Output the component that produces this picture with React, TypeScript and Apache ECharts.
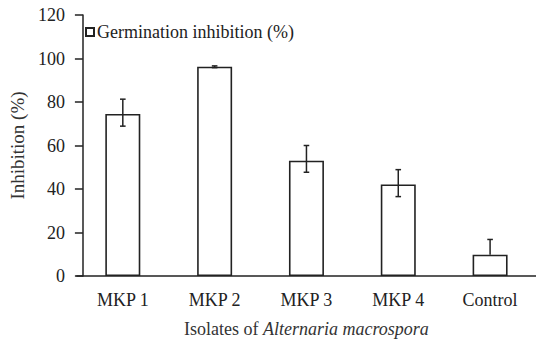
import React, { useEffect, useRef } from "react";
import * as echarts from "echarts";

const categories = ["MKP 1", "MKP 2", "MKP 3", "MKP 4", "Control"];
const inhibition = [74.5, 96.2, 53.0, 42.1, 9.8];
const errUpper = [6.8, 0.4, 7.0, 6.8, 7.0];
const errLower = [5.6, 0.4, 5.3, 5.6, 0];
const yTicks = { min: 0, max: 120, interval: 20 };

const FONT = "Times New Roman, Liberation Serif, DejaVu Serif, serif";

export default function App() {
  const ref = useRef<HTMLDivElement>(null);
  useEffect(() => {
    if (!ref.current) return;
    const chart = echarts.init(ref.current, undefined, { renderer: "svg" });
    chart.setOption({
      animation: false,
      backgroundColor: "#fff",
      textStyle: { fontFamily: FONT, color: "#222" },
      legend: {
        left: 80,
        top: 18,
        icon: "rect",
        itemWidth: 8,
        itemHeight: 8,
        itemGap: 4,
        textStyle: { fontFamily: FONT, fontSize: 18, color: "#222", padding: [0, 0, 0, -2] },
        data: ["Germination inhibition (%)"],
      },
      grid: { left: 73, top: 15, width: 473, height: 264.3 },
      xAxis: {
        type: "category",
        data: categories,
        axisLine: { lineStyle: { color: "#222", width: 1.5 } },
        axisTick: { alignWithLabel: true, length: 7, lineStyle: { color: "#222", width: 1.5 } },
        axisLabel: { fontFamily: FONT, fontSize: 18, color: "#222", margin: 15 },
        name: "Isolates of {i|Alternaria macrospora}",
        nameLocation: "middle",
        nameGap: 44,
        nameTextStyle: {
          fontFamily: FONT,
          fontSize: 18,
          color: "#333",
          rich: { i: { fontFamily: FONT, fontSize: 18, fontStyle: "italic", color: "#333" } },
        },
      },
      yAxis: {
        type: "value",
        min: yTicks.min,
        max: yTicks.max,
        interval: yTicks.interval,
        offset: -6,
        splitLine: { show: false },
        axisLine: { show: true, lineStyle: { color: "#222", width: 1.5 } },
        axisTick: { show: true, length: 8, lineStyle: { color: "#222", width: 1.5 } },
        axisLabel: { fontFamily: FONT, fontSize: 18, color: "#222", margin: 18 },
        name: "Inhibition (%)",
        nameLocation: "middle",
        nameGap: 51,
        nameTextStyle: { fontFamily: FONT, fontSize: 19, color: "#333" },
      },
      series: [
        {
          name: "Germination inhibition (%)",
          type: "bar",
          data: inhibition,
          barWidth: 35,
          itemStyle: { color: "#fff", borderColor: "#222", borderWidth: 1.6 },
        },
        {
          type: "custom",
          z: 5,
          silent: true,
          data: inhibition.map((v, i) => [i, v, v + errUpper[i], v - errLower[i]]),
          renderItem: (params: any, api: any) => {
            const x = api.value(0);
            const top = api.coord([x, api.value(2)]);
            const bot = api.coord([x, api.value(3)]);
            const cap = 2.8;
            const ls = { stroke: "#222", lineWidth: 1.5 };
            const children: any[] = [
              { type: "line", shape: { x1: top[0], y1: top[1], x2: bot[0], y2: bot[1] }, style: ls },
              { type: "line", shape: { x1: top[0] - cap, y1: top[1], x2: top[0] + cap, y2: top[1] }, style: ls },
            ];
            if (api.value(3) < api.value(1)) {
              children.push({ type: "line", shape: { x1: bot[0] - cap, y1: bot[1], x2: bot[0] + cap, y2: bot[1] }, style: ls });
            }
            return { type: "group", children };
          },
        },
      ],
    });
    return () => chart.dispose();
  }, []);
  return <div ref={ref} style={{ width: 536, height: 343, position: "absolute", left: 0, top: 0 }} />;
}
